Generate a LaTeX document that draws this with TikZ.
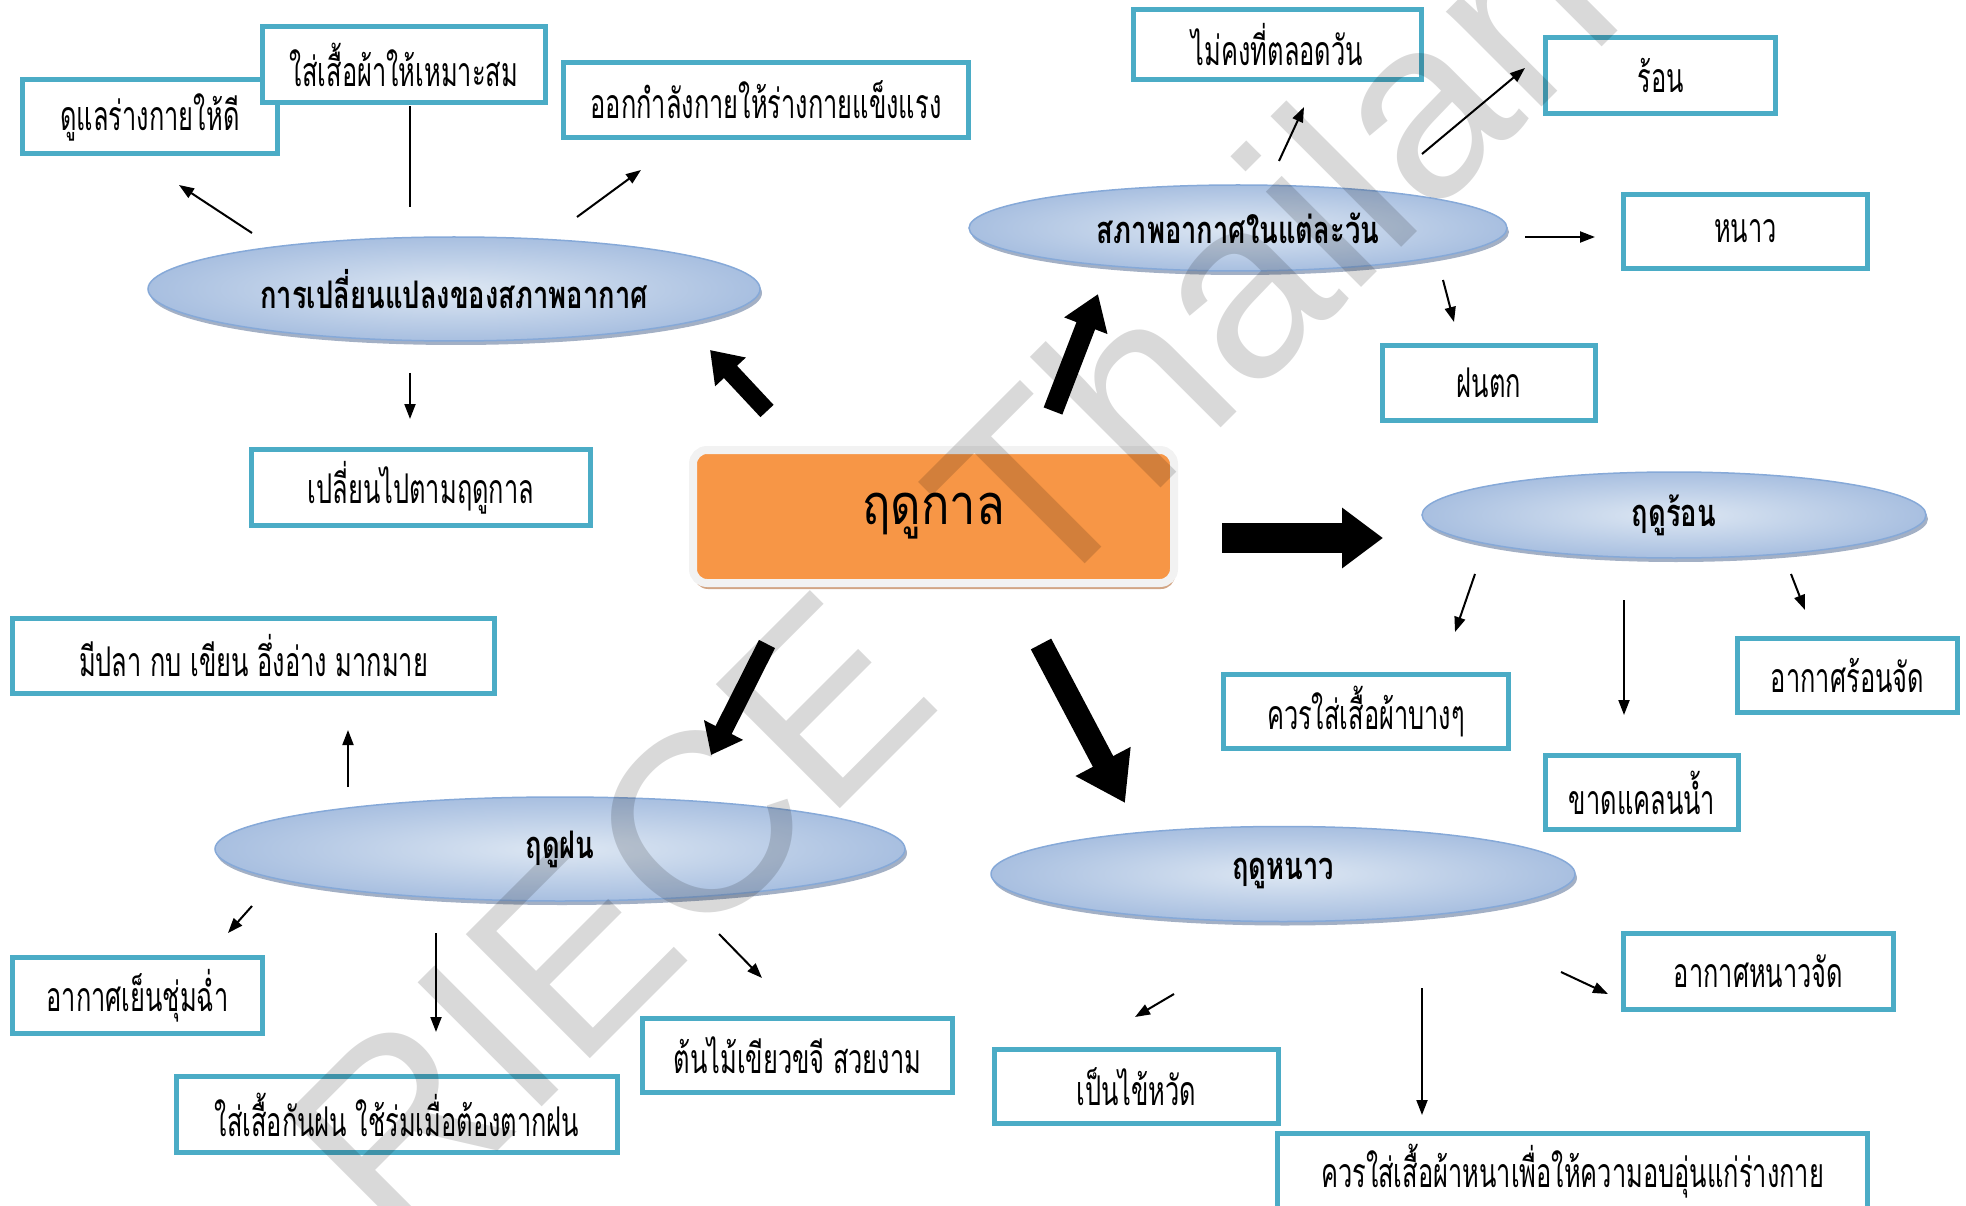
\documentclass[tikz,border=0pt]{standalone}
\usepackage{fontspec}
\usetikzlibrary{
    arrows.meta,
    positioning,
    shadows,
    shapes.geometric
}
\newfontfamily\thaihead[Script=Thai, FakeStretch=0.72]{Loma}
\newfontfamily\thaibig[Script=Thai, FakeStretch=0.84]{Loma}
\newfontfamily\thaicond[Script=Thai, FakeStretch=0.62]{Loma}
\newfontfamily\markfont{Liberation Sans}
\definecolor{boxblue}{HTML}{4BACC6}
\definecolor{seasonorange}{HTML}{F79646}
\definecolor{ovalin}{HTML}{DDE7F3}
\definecolor{ovalout}{HTML}{A8BFE0}
\definecolor{ovalline}{HTML}{86A9D8}
\definecolor{ovalshadow}{HTML}{8C9CB6}
\definecolor{boxshadow}{HTML}{D2A584}
\tikzset{
    infobox/.style = {
        draw = boxblue,
        line width = 5pt,
        fill = white,
        inner sep = 0pt,
        align = center,
        font = \thaicond\fontsize{41}{43}\selectfont
    },
    topic/.style = {
        ellipse,
        draw = ovalline,
        line width = 1.5pt,
        inner color = ovalin,
        outer color = ovalout,
        inner sep = 0pt,
        drop shadow = {shadow xshift = 2pt, shadow yshift = -4pt,
            fill = ovalshadow, opacity = 0.8},
        font = \thaihead\bfseries\fontsize{38}{40}\selectfont
    },
    mainbox/.style = {
        rounded corners = 14pt,
        fill = seasonorange,
        draw = black!5,
        line width = 8pt,
        minimum width = 481pt,
        minimum height = 133pt,
        drop shadow = {shadow xshift = 1pt, shadow yshift = -6pt,
            fill = boxshadow, opacity = 1},
        font = \thaibig\fontsize{56}{58}\selectfont
    },
    link/.style = {
        -{Triangle[length = 15pt, width = 11pt]},
        line width = 2pt
    },
    bigarrow/.style n args = {3}{
        -{Triangle[length = #2, width = #3]},
        line width = #1
    },
    watermark/.style = {
        inner sep = 0pt,
        text = black,
        text opacity = 0.15,
        font = \markfont\fontsize{255}{255}\selectfont
    }
}

\begin{document}
\begin{tikzpicture}[x = 1pt, y = -1pt]
    \useasboundingbox (0,0) rectangle (1966,1206);
    \clip (0,0) rectangle (1966,1206);

    \node[mainbox] (season) at (933.5,516.5) {ฤดูกาล};

    \node[topic, minimum width = 612pt, minimum height = 104pt] (change) at (454,289) {การเปลี่ยนแปลงของสภาพอากาศ};
    \node[topic, minimum width = 538pt, minimum height = 86pt] (daily) at (1238,228) {สภาพอากาศในแต่ละวัน};
    \node[topic, minimum width = 504pt, minimum height = 86pt] (summer) at (1674,515) {ฤดูร้อน};
    \node[topic, minimum width = 690pt, minimum height = 104pt] (rainy) at (560,849) {ฤดูฝน};
    \node[topic, minimum width = 584pt, minimum height = 95pt] (winter) at (1283,874) {ฤดูหนาว};

    \node[infobox, minimum width = 255pt, minimum height = 74pt] (care) at (150,117) {ดูแลร่างกายให้ดี};
    \node[infobox, minimum width = 283pt, minimum height = 76pt] (clothes) at (404,64.5) {ใส่เสื้อผ้าให้เหมาะสม};
    \node[infobox, minimum width = 405pt, minimum height = 75pt] (exercise) at (766,100) {ออกกำลังกายให้ร่างกายแข็งแรง};
    \node[infobox, minimum width = 339pt, minimum height = 76pt] (follow) at (421,487.5) {เปลี่ยนไปตามฤดูกาล};
    \node[infobox, minimum width = 288pt, minimum height = 70pt] (unsteady) at (1277.5,44.5) {ไม่คงที่ตลอดวัน};
    \node[infobox, minimum width = 230pt, minimum height = 76pt] (hot) at (1660.5,75.5) {ร้อน};
    \node[infobox, minimum width = 244pt, minimum height = 74pt] (cold) at (1745.5,231.5) {หนาว};
    \node[infobox, minimum width = 213pt, minimum height = 75pt] (rain) at (1489,383) {ฝนตก};
    \node[infobox, minimum width = 482pt, minimum height = 75pt] (fish) at (253.5,656) {มีปลา กบ เขียน อึ่งอ่าง มากมาย};
    \node[infobox, minimum width = 285pt, minimum height = 74pt] (thin) at (1366,711.5) {ควรใส่เสื้อผ้าบางๆ};
    \node[infobox, minimum width = 220pt, minimum height = 74pt] (veryhot) at (1847.5,675.5) {อากาศร้อนจัด};
    \node[infobox, minimum width = 193pt, minimum height = 74pt] (drought) at (1642,792.5) {ขาดแคลนน้ำ};
    \node[infobox, minimum width = 250pt, minimum height = 76pt] (cool) at (137.5,995.5) {อากาศเย็นชุ่มฉ่ำ};
    \node[infobox, minimum width = 441pt, minimum height = 76pt] (raincoat) at (397,1114.5) {ใส่เสื้อกันฝน ใช้ร่มเมื่อต้องตากฝน};
    \node[infobox, minimum width = 310pt, minimum height = 74pt] (trees) at (797.5,1055.5) {ต้นไม้เขียวขจี สวยงาม};
    \node[infobox, minimum width = 284pt, minimum height = 74pt] (flu) at (1136.5,1086.5) {เป็นไข้หวัด};
    \node[infobox, minimum width = 270pt, minimum height = 76pt] (verycold) at (1758.5,971.5) {อากาศหนาวจัด};
    \node[infobox, minimum width = 590pt, minimum height = 76pt] (warm) at (1572.5,1171.5) {ควรใส่เสื้อผ้าหนาเพื่อให้ความอบอุ่นแก่ร่างกาย};

    \coordinate (t1a) at (767,411);  \coordinate (t1b) at (710,350);
    \coordinate (t2a) at (1053,411); \coordinate (t2b) at (1098,294);
    \coordinate (t3a) at (1222,538); \coordinate (t3b) at (1383,538);
    \coordinate (t4a) at (1041,644); \coordinate (t4b) at (1125,803);
    \coordinate (t5a) at (767,644);  \coordinate (t5b) at (711,755);

    \path[bigarrow = {18pt}{30pt}{40pt}] (t1a) edge (t1b);
    \path[bigarrow = {20pt}{34pt}{44pt}] (t2a) edge (t2b);
    \path[bigarrow = {30pt}{41pt}{58pt}] (t3a) edge (t3b);
    \path[bigarrow = {23pt}{47pt}{59pt}] (t4a) edge (t4b);
    \path[bigarrow = {18pt}{28pt}{42pt}] (t5a) edge (t5b);

    \coordinate (c1a) at (252,233);  \coordinate (c1b) at (179,185);
    \coordinate (c2a) at (410,207);  \coordinate (c2b) at (410,106);
    \coordinate (c3a) at (577,217);  \coordinate (c3b) at (641,170);
    \coordinate (c4a) at (410,373);  \coordinate (c4b) at (410,419);
    \coordinate (d1a) at (1279,161); \coordinate (d1b) at (1304,107);
    \coordinate (d2a) at (1422,154); \coordinate (d2b) at (1525,68);
    \coordinate (d3a) at (1525,237); \coordinate (d3b) at (1595,237);
    \coordinate (d4a) at (1443,280); \coordinate (d4b) at (1454,322);
    \coordinate (s1a) at (1475,574); \coordinate (s1b) at (1455,632);
    \coordinate (s2a) at (1624,600); \coordinate (s2b) at (1624,715);
    \coordinate (s3a) at (1791,574); \coordinate (s3b) at (1805,610);
    \coordinate (r1a) at (348,787);  \coordinate (r1b) at (348,730);
    \coordinate (r2a) at (252,906);  \coordinate (r2b) at (228,933);
    \coordinate (r3a) at (436,933);  \coordinate (r3b) at (436,1032);
    \coordinate (r4a) at (719,934);  \coordinate (r4b) at (762,978);
    \coordinate (w1a) at (1174,994); \coordinate (w1b) at (1135,1017);
    \coordinate (w2a) at (1422,988); \coordinate (w2b) at (1422,1115);
    \coordinate (w3a) at (1561,972); \coordinate (w3b) at (1608,994);

    \path[link] (c1a) edge (c1b);
    \path[line width = 2pt] (c2a) edge (c2b);
    \path[link] (c3a) edge (c3b);
    \path[link] (c4a) edge (c4b);
    \path[link] (d1a) edge (d1b);
    \path[link] (d2a) edge (d2b);
    \path[link] (d3a) edge (d3b);
    \path[link] (d4a) edge (d4b);
    \path[link] (s1a) edge (s1b);
    \path[link] (s2a) edge (s2b);
    \path[link] (s3a) edge (s3b);
    \path[link] (r1a) edge (r1b);
    \path[link] (r2a) edge (r2b);
    \path[link] (r3a) edge (r3b);
    \path[link] (r4a) edge (r4b);
    \path[link] (w1a) edge (w1b);
    \path[link] (w2a) edge (w2b);
    \path[link] (w3a) edge (w3b);

    \node[watermark, rotate = 45, anchor = base west] (wm) at (395,1254) {RIECE\hspace{60pt} Thailand};
\end{tikzpicture}
\end{document}
